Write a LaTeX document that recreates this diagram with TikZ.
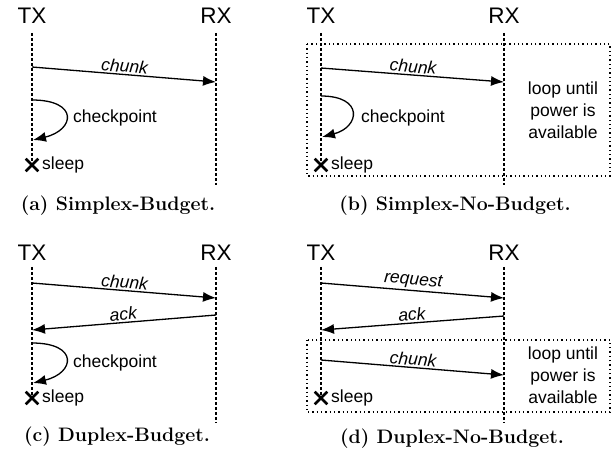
\documentclass[tikz,border=0pt]{standalone}
\usepackage{fontspec}
\newfontfamily\arialfont{Liberation Sans}
\usetikzlibrary{arrows.meta,shapes.misc}
\tikzset{
  party/.style = {font=\arialfont\fontsize{22.5}{26}\selectfont, inner sep=0pt},
  lifeline/.style = {line width=2pt, dash pattern=on 3pt off 2pt},
  msg/.style = {line width=1.3pt, -{Latex[length=13pt,width=10pt]}},
  msglabel/.style = {font=\arialfont\itshape\fontsize{17.5}{21}\selectfont,
    sloped, above, inner sep=1.5pt},
  note/.style = {font=\arialfont\fontsize{17.5}{22}\selectfont,
    inner sep=0pt, align=center},
  sleepx/.style = {cross out, draw, line width=2.6pt, minimum size=10pt,
    inner sep=0pt},% sleep marker
  loopbox/.style = {line width=1.3pt, dash pattern=on 1.3pt off 3pt},
  capt/.style = {font=\bfseries\fontsize{19.5}{22}\selectfont, inner sep=0pt}
}

\begin{document}
\begin{tikzpicture}[x=1pt, y=-1pt]
  \useasboundingbox (0,0) rectangle (615,461);

  % (a) Simplex-Budget
  \node [party] (txa) at (32,16) {TX};
  \node [party] (rxa) at (216,16) {RX};
  \node [sleepx] (xa) at (32,165) {};
  \node [note, anchor=west] (sla) at (42,165) {sleep};
  \coordinate (rxaend) at (216,185);
  \draw [lifeline] (txa.south) ++(0,9) -- (xa.center);
  \draw [lifeline] (rxa.south) ++(0,9) -- (rxaend);
  \coordinate (a1) at (32,67);
  \coordinate (a2) at (216,82);
  \draw [msg] (a1) -- node [msglabel] {chunk} (a2);
  \coordinate (a3) at (32,100);
  \coordinate (a4) at (33,140);
  \draw [msg] (a3) .. controls +(47,0) and +(42,-10) .. (a4);
  \node [note, anchor=west] (cpa) at (73,118) {checkpoint};
  \node [capt] (capa) at (118,206) {(a) Simplex-Budget.};

  % (b) Simplex-No-Budget
  \node [party] (txb) at (321,16) {TX};
  \node [party] (rxb) at (504,16) {RX};
  \node [sleepx] (xb) at (321,165) {};
  \node [note, anchor=west] (slb) at (331,165) {sleep};
  \coordinate (rxbend) at (504,185);
  \draw [lifeline] (txb.south) ++(0,9) -- (xb.center);
  \draw [lifeline] (rxb.south) ++(0,9) -- (rxbend);
  \coordinate (b1) at (321,68);
  \coordinate (b2) at (504,82);
  \draw [msg] (b1) -- node [msglabel] {chunk} (b2);
  \coordinate (b3) at (321,96);
  \coordinate (b4) at (322,137);
  \draw [msg] (b3) .. controls +(43,0) and +(38,-10) .. (b4);
  \node [note, anchor=west] (cpb) at (361,118) {checkpoint};
  \draw [loopbox] (307,44) rectangle (610,176);
  \node [note] (loopb) at (563,110) {loop until\\power is\\available};
  \node [capt] (capb) at (455,206) {(b) Simplex-No-Budget.};

  % (c) Duplex-Budget
  \node [party] (txc) at (32,253) {TX};
  \node [party] (rxc) at (216,253) {RX};
  \node [sleepx] (xc) at (32,398) {};
  \node [note, anchor=west] (slc) at (42,398) {sleep};
  \coordinate (rxcend) at (216,422);
  \draw [lifeline] (txc.south) ++(0,6) -- (xc.center);
  \draw [lifeline] (rxc.south) ++(0,6) -- (rxcend);
  \coordinate (c1) at (32,283);
  \coordinate (c2) at (216,298);
  \draw [msg] (c1) -- node [msglabel] {chunk} (c2);
  \coordinate (c3) at (216,315);
  \coordinate (c4) at (32,330);
  \draw [msg] (c3) -- node [msglabel] {ack} (c4);
  \coordinate (c5) at (32,343);
  \coordinate (c6) at (33,383);
  \draw [msg] (c5) .. controls +(47,0) and +(42,-10) .. (c6);
  \node [note, anchor=west] (cpc) at (73,363) {checkpoint};
  \node [capt] (capc) at (117,437) {(c) Duplex-Budget.};

  % (d) Duplex-No-Budget
  \node [party] (txd) at (321,253) {TX};
  \node [party] (rxd) at (504,253) {RX};
  \node [sleepx] (xd) at (321,398) {};
  \node [note, anchor=west] (sld) at (331,398) {sleep};
  \coordinate (rxdend) at (504,422);
  \draw [lifeline] (txd.south) ++(0,6) -- (xd.center);
  \draw [lifeline] (rxd.south) ++(0,6) -- (rxdend);
  \coordinate (d1) at (321,283);
  \coordinate (d2) at (504,298);
  \draw [msg] (d1) -- node [msglabel] {request} (d2);
  \coordinate (d3) at (504,316);
  \coordinate (d4) at (321,330);
  \draw [msg] (d3) -- node [msglabel] {ack} (d4);
  \draw [loopbox] (307,340) rectangle (610,412);
  \coordinate (d5) at (321,360);
  \coordinate (d6) at (504,375);
  \draw [msg] (d5) -- node [msglabel] {chunk} (d6);
  \node [note] (loopd) at (563,375) {loop until\\power is\\available};
  \node [capt] (capd) at (452,439) {(d) Duplex-No-Budget.};
\end{tikzpicture}
\end{document}
